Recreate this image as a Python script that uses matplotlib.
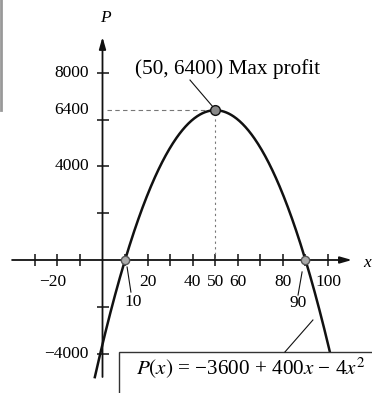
import numpy as np
import matplotlib
matplotlib.use("Agg")
import matplotlib.pyplot as plt
from matplotlib.patches import Rectangle

plt.rcParams["font.family"] = ["Liberation Serif", "DejaVu Serif"]
plt.rcParams["mathtext.fontset"] = "stix"

# Profit model P(x) = c0 + c1*x + c2*x^2
c0, c1, c2 = -3600, 400, -4
max_point = (50, 6400)
roots = [10, 90]

x_tick_vals = [-30, -20, -10, 10, 20, 30, 40, 50, 60, 70, 80, 90, 100]
x_tick_labels = {-20: "\u221220", 20: "20", 40: "40", 50: "50", 60: "60",
                 80: "80", 100: "100"}
y_tick_vals = [-4000, -2000, 2000, 4000, 6000, 8000]
y_tick_labels = {8000: "8000", 6400: "6400", 4000: "4000", -4000: "\u22124000"}

fig = plt.figure(figsize=(3.72, 3.93), dpi=100)
ax = fig.add_axes([0, 0, 1, 1])
ax.set_xlim(-45.45, 119.5)
ax.set_ylim(-5684, 11111)
ax.axis("off")

ink = "#111111"
fs = 12.5

# axes with arrowheads
ax.annotate("", xy=(110.6, 0), xytext=(-40.1, 0),
            arrowprops=dict(arrowstyle="-|>,head_length=0.7,head_width=0.2",
                            lw=1.3, color=ink, shrinkA=0, shrinkB=0))
ax.annotate("", xy=(0, 9530), xytext=(0, -5000),
            arrowprops=dict(arrowstyle="-|>,head_length=0.7,head_width=0.2",
                            lw=1.3, color=ink, shrinkA=0, shrinkB=0))

# cross-shaped tick marks
ax.plot(x_tick_vals, [0] * len(x_tick_vals), ls="none", marker="|",
        ms=9, mew=1.1, color=ink)
ax.plot([0] * len(y_tick_vals), y_tick_vals, ls="none", marker="_",
        ms=9, mew=1.1, color=ink)

# axis names
ax.text(117.3, -130, "x", fontsize=fs, style="italic", ha="center", va="center")
ax.text(1.1, 10340, "P", fontsize=fs, style="italic", ha="center", va="center")

# tick labels
for v, s in x_tick_labels.items():
    xpos = v - 2.3 if v < 0 else v
    ax.text(xpos, -940, s, fontsize=fs, ha="center", va="center")
for v, s in y_tick_labels.items():
    ax.text(-6.0, v, s, fontsize=fs, ha="right", va="center")

# root labels with leaders
ax.text(13.6, -1795, "10", fontsize=fs, ha="center", va="center")
ax.plot([10.9, 12.6], [-300, -1370], color=ink, lw=0.8)
ax.text(86.7, -1840, "90", fontsize=fs, ha="center", va="center")
ax.plot([88.5, 86.7], [-510, -1500], color=ink, lw=0.8)

# guide lines to the maximum
ax.plot([2, max_point[0]], [max_point[1], max_point[1]], color="#777777",
        lw=0.8, ls=(0, (4, 3)))
ax.plot([max_point[0], max_point[0]], [0, max_point[1]], color="#777777",
        lw=0.8, ls=(0, (2, 3)))

# profit curve
xs = np.linspace(-3.4, 102, 400)
ps = c0 + c1 * xs + c2 * xs ** 2
ax.plot(xs, ps, color=ink, lw=1.8, zorder=3)

# marked points
ax.plot(*max_point, marker="o", ms=7, mfc="#888888", mec=ink, mew=1.0, zorder=4)
ax.plot(roots, [0, 0], ls="none", marker="o", ms=6, mfc="#aaaaaa",
        mec="#555555", mew=1.0, zorder=4)

# maximum annotation
ax.text(14.4, 8150, f"({max_point[0]}, {max_point[1]}) Max profit",
        fontsize=15.3, ha="left", va="center")
ax.plot([38.8, 49], [7690, 6540], color=ink, lw=0.8)

# formula box
ax.add_patch(Rectangle((7.4, -6500), 130, 2570, facecolor="white",
                       edgecolor="#333333", lw=1.0, zorder=5))
ax.text(14.9, -4615, "$P(x)$ = \u22123600 + 400$x$ \u2212 4$x^2$",
        fontsize=15.2, ha="left", va="center", zorder=6)
ax.plot([80.9, 93.3], [-3930, -2564], color=ink, lw=0.8, zorder=6)

# scanned page edge
fig.add_artist(plt.Line2D([0.004, 0.004], [1.0, 0.72], color="#999999",
                          lw=2.0, transform=fig.transFigure))

fig.savefig("out.png", dpi=100)
